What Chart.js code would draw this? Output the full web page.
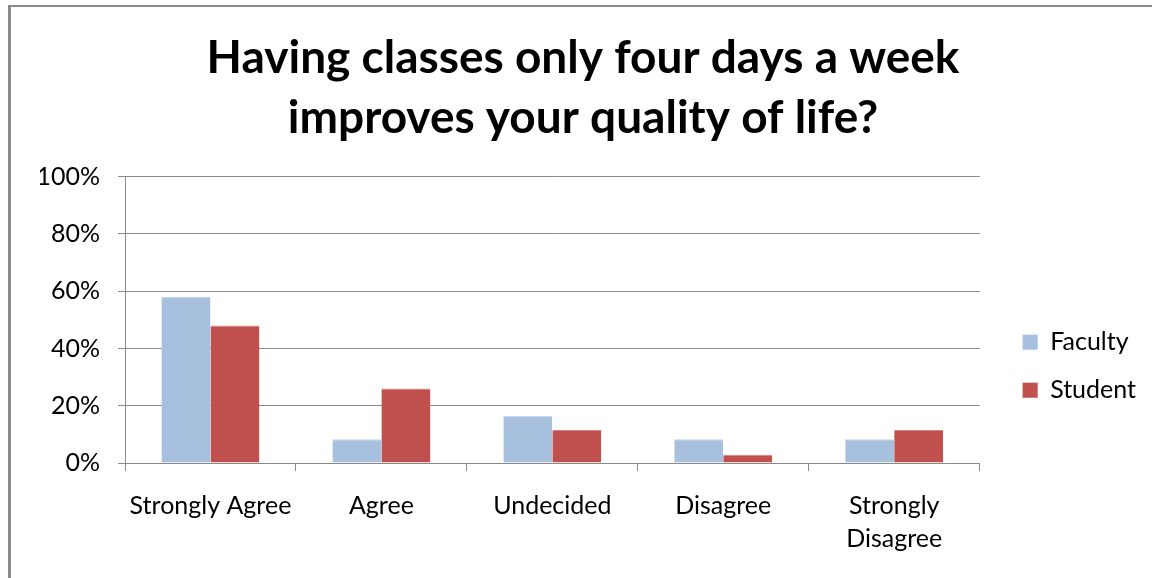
<!DOCTYPE html>
<html>
<head>
<meta charset="utf-8">
<script src="https://cdn.jsdelivr.net/npm/chart.js@4.4.1/dist/chart.umd.min.js"></script>
<style>
  html, body { margin: 0; padding: 0; background: #fff; }
  #marco { position: absolute; left: 0; top: 0; width: 1152px; height: 578px; overflow: hidden; }
  #borde { position: absolute; left: 8px; top: 5px; width: 1200px; height: 700px;
           border-left: 3px solid #8a8a8a; border-top: 2px solid #8a8a8a; }
  canvas { position: absolute; left: 0; top: 0; }
</style>
</head>
<body>
<div id="marco">
  <div id="borde"></div>
  <canvas id="grafico" width="1152" height="578"></canvas>
</div>
<script>
// datos
const categorias = ['Strongly Agree', 'Agree', 'Undecided', 'Disagree', ['Strongly', 'Disagree']];
const faculty = [58, 8.3, 16.5, 8.3, 8.3];
const student = [48, 26, 11.5, 2.9, 11.5];
const ticksY = [0, 20, 40, 60, 80, 100];

const fuente = 'Lato, "Open Sans", sans-serif';
const gris = '#8a8a8a';

// la leyenda de Excel queda algo separada del area del grafico
const moverLeyenda = {
    id: 'moverLeyenda',
    afterLayout(chart) {
        chart.legend.left += 20;
        chart.legend.right += 20;
    }
};

const config = {
    type: 'bar',
    data: {
        labels: categorias,
        datasets: [
            { label: 'Faculty', data: faculty, backgroundColor: '#a7c0de', borderColor: '#c3d5ea', borderWidth: { top: 1 } },
            { label: 'Student', data: student, backgroundColor: '#c0504d', borderColor: '#d8807d', borderWidth: { top: 1 } }
        ]
    },
    options: {
        responsive: false,
        animation: false,
        layout: { padding: { left: 40, right: 26, top: 20, bottom: 4 } },
        datasets: { bar: { categoryPercentage: 0.573, barPercentage: 1 } },
        plugins: {
            title: {
                display: true,
                text: ['Having classes only four days a week', 'improves your quality of life?'],
                color: '#000',
                font: { family: fuente, size: 46, weight: 'bold', lineHeight: 1.3 },
                padding: { top: 8, bottom: 29 }
            },
            legend: {
                position: 'right',
                title: { display: true, text: ' ', font: { size: 2 }, padding: { top: 136, bottom: 0 } },
                labels: {
                    color: '#000',
                    font: { family: fuente, size: 25 },
                    boxWidth: 15,
                    boxHeight: 15,
                    padding: 23
                }
            },
            tooltip: { enabled: false }
        },
        scales: {
            x: {
                grid: { display: true, drawOnChartArea: false, drawTicks: true, tickLength: 8, color: gris, offset: true },
                border: { display: true, color: gris, width: 1 },
                ticks: { color: '#000', font: { family: fuente, size: 25, lineHeight: 1.3 }, padding: 19, maxRotation: 0, autoSkip: false }
            },
            y: {
                min: 0,
                max: 100,
                afterFit: escala => { escala.width = 85; },
                grid: {
                    color: c => (ticksY.includes(c.tick.value) ? gris : 'transparent'),
                    tickColor: gris,
                    tickLength: 7,
                    lineWidth: 1
                },
                border: { display: true, color: gris },
                ticks: {
                    stepSize: 10,
                    color: '#000',
                    font: { family: fuente, size: 25 },
                    padding: 18,
                    callback: v => (ticksY.includes(v) ? v + '%' : '')
                }
            }
        }
    },
    plugins: [moverLeyenda]
};

const myChart = new Chart(document.getElementById('grafico').getContext('2d'), config);
</script>
</body>
</html>
